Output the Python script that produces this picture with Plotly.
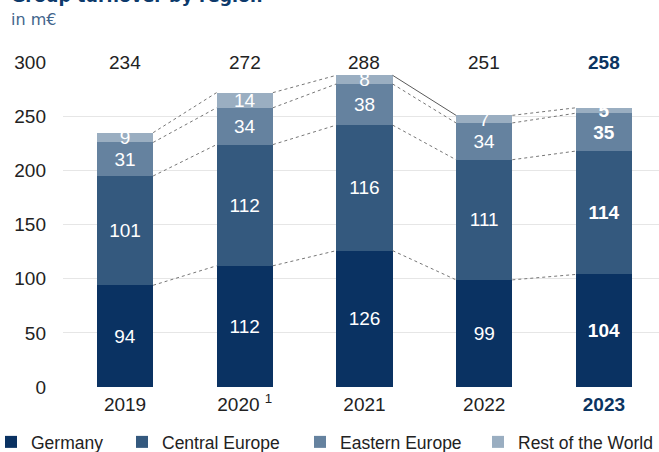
import plotly.graph_objects as go

years = ["2019", "2020 <sup>1</sup>", "2021", "2022",
         "<b><span style='color:#0b3461'>2023</span></b>"]
germany = [94, 112, 126, 99, 104]
central = [101, 112, 116, 111, 114]
eastern = [31, 34, 38, 34, 35]
rest = [9, 14, 8, 7, 5]
totals = [234, 272, 288, 251, 258]

series = [
    ("Germany", germany, "#0a3262"),
    ("Central Europe", central, "#34597e"),
    ("Eastern Europe", eastern, "#65829f"),
    ("Rest of the World", rest, "#9aaec1"),
]

FONT = "Liberation Sans, Arial, Helvetica, sans-serif"
BW = 0.47
xs = list(range(len(years)))
L, T, W, H = 63, 62, 659, 452
PW = W - L
PH = 387 - T

def py(px):
    return (387 - px) / PH

def pxx(px):
    return (px - L) / PW

fig = go.Figure()

legend_text_px = [31, 162, 340, 518]
for k, (name, vals, col) in enumerate(series):
    texts = [f"<b>{v}</b>" if i == len(vals) - 1 else str(v) for i, v in enumerate(vals)]
    fig.add_trace(go.Bar(
        x=xs, y=vals, name=name, width=BW,
        marker=dict(color=col, line=dict(width=0)),
        text=texts, textposition="inside", insidetextanchor="middle",
        textangle=0, constraintext="none",
        textfont=dict(color="white", size=19, family=FONT),
        hoverinfo="skip",
        legend="legend" if k == 0 else f"legend{k+1}",
    ))

# connector lines between segment boundaries
cum = []
run = [0] * len(years)
for _, vals, _ in series:
    run = [a + b for a, b in zip(run, vals)]
    cum.append(run[:])

for lvl, levels in enumerate(cum):
    for i in range(len(years) - 1):
        solid = (lvl == len(cum) - 1 and i == 2)
        fig.add_trace(go.Scatter(
            x=[xs[i] + BW / 2, xs[i + 1] - BW / 2],
            y=[levels[i], levels[i + 1]],
            mode="lines",
            line=dict(color="#5a5a5a" if solid else "#777777", width=1,
                      dash="solid" if solid else "dot"),
            showlegend=False, hoverinfo="skip",
        ))

# totals above bars
for i, t in enumerate(totals):
    last = i == len(totals) - 1
    fig.add_annotation(
        x=xs[i], y=py(50), xref="x", yref="paper",
        text=f"<b>{t}</b>" if last else str(t), showarrow=False,
        font=dict(size=19, family=FONT, color="#0b3461" if last else "#222222"),
    )

# title & subtitle
fig.add_annotation(
    x=pxx(9), y=py(-4), xref="paper", yref="paper",
    xanchor="left", yanchor="middle", showarrow=False,
    text="<b>Group turnover by region</b>",
    font=dict(size=17.5, family="DejaVu Sans, sans-serif", color="#0d3a6b"),
)
fig.add_annotation(
    x=pxx(9), y=py(19), xref="paper", yref="paper",
    xanchor="left", yanchor="middle", showarrow=False,
    text="in m€",
    font=dict(size=16, family="DejaVu Sans, sans-serif", color="#42658c"),
)

layout_legends = {}
for k, px in enumerate(legend_text_px):
    key = "legend" if k == 0 else f"legend{k+1}"
    layout_legends[key] = dict(
        x=pxx(px - 40), y=py(442),
        xanchor="left", yanchor="middle", orientation="h",
        font=dict(size=17.5, family=FONT, color="#222222"),
        bgcolor="rgba(0,0,0,0)", borderwidth=0,
    )

fig.update_layout(
    width=W, height=H,
    margin=dict(l=L, r=0, t=T, b=H - 387, pad=0, autoexpand=False),
    barmode="stack",
    plot_bgcolor="white", paper_bgcolor="white",
    showlegend=True,
    **layout_legends,
    xaxis=dict(
        range=[-0.518, 4.46], tickvals=xs, ticktext=years,
        showgrid=False, zeroline=False, showline=False, ticks="",
        tickfont=dict(size=19, family=FONT, color="#222222"),
        ticklabelstandoff=4,
    ),
    yaxis=dict(
        range=[0, 300.3], tickvals=[0, 50, 100, 150, 200, 250, 300],
        showgrid=True, gridcolor="#e6e6e6", gridwidth=1,
        zeroline=False, showline=False, ticks="",
        tickfont=dict(size=19, family=FONT, color="#222222"),
        ticklabelstandoff=16,
    ),
)

fig.write_html("out.html", config={"displayModeBar": False},
               post_script="document.body.style.margin='0px';")
